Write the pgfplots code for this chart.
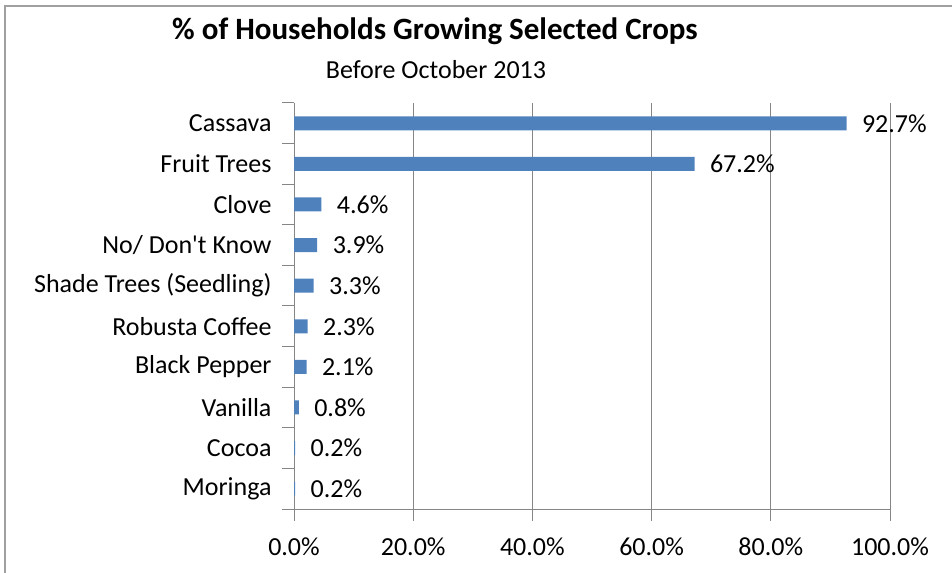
\documentclass[border=0pt]{standalone}
\usepackage{pgfplots}
\pgfplotsset{compat=1.18}
\usepackage{fontspec}
\setmainfont{Carlito}
\newfontfamily\rawcal{Carlito}[Ligatures=TeXOff]
\definecolor{barblue}{RGB}{79,129,189}
\definecolor{gridgray}{RGB}{134,134,134}
\definecolor{framegray}{RGB}{160,160,160}
\pgfplotstableread{
idx val
0 92.7
1 67.2
2 4.6
3 3.9
4 3.3
5 2.3
6 2.1
7 0.8
8 0.2
9 0.2
}\cropdata
\begin{document}
\begin{tikzpicture}[x=1bp,y=1bp]
\useasboundingbox (0,0) rectangle (952,573);
\draw[framegray, line width=1.5bp] (5,0) -- (5,567) -- (952,567);
\node[font=\fontsize{31bp}{37bp}\selectfont\bfseries] at (435,542) {\% of Households Growing Selected Crops};
\node[font=\fontsize{26bp}{31bp}\selectfont] at (436,503) {Before October 2013};
\begin{axis}[
  at={(294bp,64bp)}, anchor=south west,
  width=596bp, height=406bp, scale only axis,
  xmin=0, xmax=100, ymin=-0.5, ymax=9.5, y dir=reverse,
  xbar, bar width=14bp,
  axis x line=bottom, axis y line=left,
  axis line style={-, gridgray, line width=1bp},
  tick align=outside,
  major tick length=12bp,
  tick style={gridgray, line width=1bp},
  xtick={0,20,40,60,80,100},
  xmajorgrids,
  major grid style={gridgray, line width=1bp},
  /pgf/number format/assume math mode=true,
  xticklabel={\pgfmathprintnumber[fixed,fixed zerofill,precision=1]{\tick}\%},
  xticklabel style={font=\fontsize{26bp}{31bp}\selectfont, yshift=-13bp},
  ytick={-0.5,0.5,1.5,2.5,3.5,4.5,5.5,6.5,7.5,8.5,9.5},
  yticklabels={},
  extra y ticks={0,1,2,3,4,5,6,7,8,9},
  extra y tick labels={Cassava,Fruit Trees,Clove,{No/ Don{\rawcal'}t Know},Shade Trees (Seedling),Robusta Coffee,Black Pepper,Vanilla,Cocoa,Moringa},
  extra y tick style={major tick length=0pt, ymajorgrids=false, yticklabel style={font=\fontsize{26bp}{31bp}\selectfont, xshift=-19bp}},
  nodes near coords={\pgfmathprintnumber[fixed,fixed zerofill,precision=1]{\pgfplotspointmeta}\%},
  nodes near coords align={horizontal},
  every node near coord/.append style={font=\fontsize{26bp}{31bp}\selectfont, black, xshift=12bp},
  clip=false,
]
\addplot[fill=barblue, draw=none] table[x=val, y=idx] {\cropdata};
\end{axis}
\end{tikzpicture}
\end{document}
